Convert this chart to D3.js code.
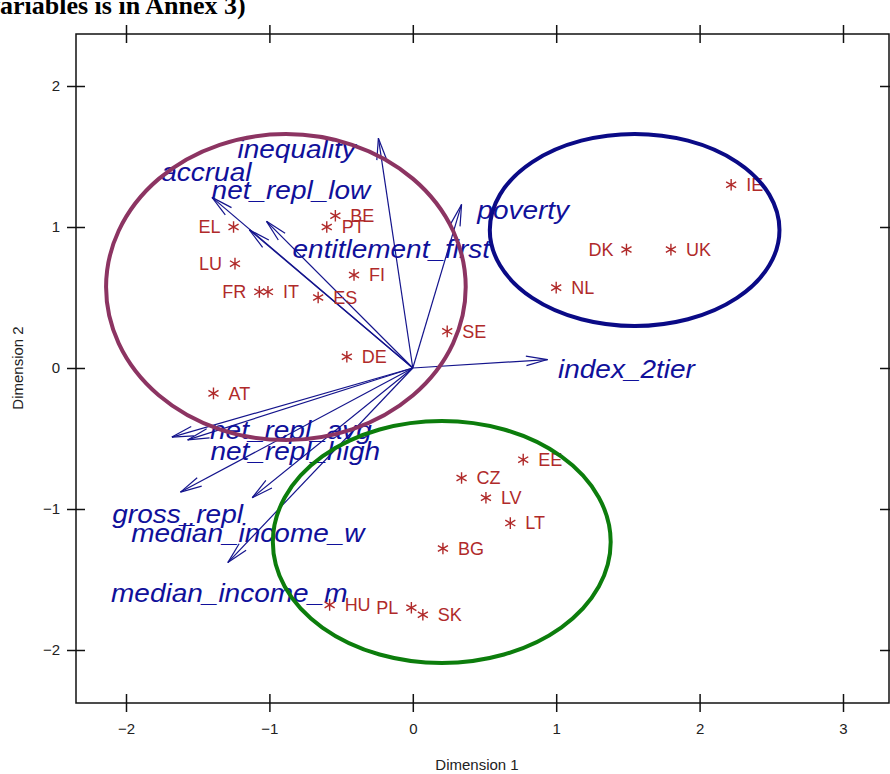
<!DOCTYPE html>
<html>
<head>
<meta charset="utf-8">
<script src="https://cdn.jsdelivr.net/npm/d3@7"></script>
<style>
body { margin: 0; background: #fff; }
svg { display: block; }
</style>
</head>
<body>
<div class="chart"></div>
<script>
var w = 890;
var h = 774;

// country scores
var countries = ["IE", "DK", "UK", "NL", "SE", "BE", "PT", "EL", "LU", "FR", "IT", "ES", "FI", "DE", "AT",
                 "CZ", "EE", "LV", "LT", "BG", "HU", "PL", "SK"];
var dim1 = [2.22, 1.49, 1.80, 1.00, 0.24, -0.54, -0.60, -1.25, -1.24, -1.07, -1.01, -0.66, -0.41, -0.46, -1.39,
            0.34, 0.77, 0.51, 0.68, 0.21, -0.58, -0.01, 0.07];
var dim2 = [1.30, 0.84, 0.84, 0.57, 0.26, 1.08, 1.00, 1.00, 0.74, 0.54, 0.54, 0.50, 0.66, 0.08, -0.18,
            -0.78, -0.65, -0.92, -1.10, -1.28, -1.68, -1.70, -1.75];
var labelLeft = ["DK", "EL", "LU", "FR", "PL"];

// variable loadings (arrow tips) and where their names sit
var variables = ["inequality", "accrual", "net_repl_low", "entitlement_first", "poverty", "index_2tier",
                 "net_repl_avg", "net_repl_high", "gross_repl", "median_income_w", "median_income_m"];
var load1 = [-0.24, -1.40, -1.02, -1.14, 0.34, 0.94, -1.68, -1.57, -1.62, -1.12, -1.29];
var load2 = [1.63, 1.21, 1.04, 0.98, 1.16, 0.06, -0.49, -0.51, -0.88, -0.92, -1.38];
var labelDim1 = [-0.81, -1.44, -0.85, -0.15, 0.77, 1.49, -0.85, -0.82, -1.64, -1.15, -1.28];
var labelDim2 = [1.55, 1.39, 1.26, 0.84, 1.12, -0.01, -0.44, -0.59, -1.04, -1.17, -1.60];

// cluster ellipses
var clusters = ["continental", "liberal", "eastern"];
var clusterX = [-0.885, 1.547, 0.202];
var clusterY = [0.574, 0.979, -1.234];
var clusterRx = [1.254, 1.010, 1.178];
var clusterRy = [1.085, 0.681, 0.858];

var ticks = [-2, -1, 0, 1, 2, 3];
var yTicks = [-2, -1, 0, 1, 2];

var x = d3.scaleLinear().domain([-2, 3]).range([126, 843]);
var y = d3.scaleLinear().domain([-2, 2]).range([650, 86]);

var clusterColor = d3.scaleOrdinal()
    .domain(clusters)
    .range(["#8c3462", "#0a0a86", "#0c7d0c"]);

var svg = d3.select(".chart")
    .append("svg")
    .attr("width", w)
    .attr("height", h);

var fLeft = 76, fRight = 889, fTop = 34, fBottom = 703;

// header text cut off from the page above
svg.append("text")
    .attr("x", -13)
    .attr("y", 14)
    .style("font-family", "Liberation Serif")
    .style("font-weight", "bold")
    .style("font-size", "26px")
    .text("variables is in Annex 3)");

// frame
svg.append("rect")
    .attr("x", fLeft).attr("y", fTop)
    .attr("width", fRight - fLeft).attr("height", fBottom - fTop)
    .attr("fill", "none").attr("stroke", "#111").attr("stroke-width", 1.5);

var tickFont = function(sel) {
    sel.selectAll("text")
        .style("font-family", "Liberation Sans")
        .style("font-size", "15px")
        .attr("fill", "#222");
    sel.select(".domain").remove();
    sel.selectAll("line").attr("stroke", "#111").attr("stroke-width", 1.5);
}

var xb = svg.append("g")
    .attr("transform", "translate(0," + fBottom + ")")
    .call(d3.axisBottom(x).tickValues(ticks).tickSize(9).tickPadding(11).tickFormat(d3.format("d")))
    .call(tickFont);
xb.selectAll("line").attr("y1", -9);

var xt = svg.append("g")
    .attr("transform", "translate(0," + fTop + ")")
    .call(d3.axisTop(x).tickValues(ticks).tickSize(9).tickFormat(""))
    .call(tickFont);
xt.selectAll("line").attr("y1", 9);

var yl = svg.append("g")
    .attr("transform", "translate(" + fLeft + ",0)")
    .call(d3.axisLeft(y).tickValues(yTicks).tickSize(9).tickPadding(7).tickFormat(d3.format("d")))
    .call(tickFont);
yl.selectAll("line").attr("x1", 9);

var yr = svg.append("g")
    .attr("transform", "translate(" + fRight + ",0)")
    .call(d3.axisRight(y).tickValues(yTicks).tickSize(9).tickFormat(""))
    .call(tickFont);
yr.selectAll("line").attr("x1", -9);

svg.append("text")
    .attr("x", 477).attr("y", 770)
    .attr("text-anchor", "middle")
    .style("font-family", "Liberation Sans").style("font-size", "15px")
    .attr("fill", "#222")
    .text("Dimension 1");

svg.append("text")
    .attr("transform", "translate(23,368) rotate(-90)")
    .attr("text-anchor", "middle")
    .style("font-family", "Liberation Sans").style("font-size", "15px")
    .attr("fill", "#222")
    .text("Dimension 2");

// variable arrows
var blue = "#14148c";
var arrows = svg.append("g");
variables.forEach(function(v, i) {
    var x0 = x(0), y0 = y(0);
    var x1 = x(load1[i]), y1 = y(load2[i]);
    var ang = Math.atan2(y1 - y0, x1 - x0);
    arrows.append("line")
        .attr("x1", x0).attr("y1", y0).attr("x2", x1).attr("y2", y1)
        .attr("stroke", blue).attr("stroke-width", 1.2);
    [-0.22, 0.22].forEach(function(da) {
        arrows.append("line")
            .attr("x1", x1).attr("y1", y1)
            .attr("x2", x1 - 22 * Math.cos(ang + da))
            .attr("y2", y1 - 22 * Math.sin(ang + da))
            .attr("stroke", blue).attr("stroke-width", 1.2);
    });
});

// names are drawn a bit wide, like the original device font
svg.append("g").selectAll("text")
    .data(variables)
    .enter()
    .append("text")
    .attr("transform", function(d, i) {
        return "translate(" + x(labelDim1[i]) + "," + y(labelDim2[i]) + ") scale(1.12,1)";
    })
    .attr("dy", "0.35em")
    .attr("text-anchor", "middle")
    .style("font-family", "Liberation Sans")
    .style("font-style", "italic")
    .style("font-size", "25px")
    .attr("fill", "#10109a")
    .text(function(d) { return d; });

// countries
var red = "#b02a2a";
svg.append("g").selectAll("path")
    .data(countries)
    .enter()
    .append("path")
    .attr("transform", function(d, i) { return "translate(" + x(dim1[i]) + "," + y(dim2[i]) + ")"; })
    .attr("d", d3.symbol().type(d3.symbolAsterisk).size(95))
    .attr("stroke", red).attr("stroke-width", 1.4).attr("fill", "none");

svg.append("g").selectAll("text")
    .data(countries)
    .enter()
    .append("text")
    .attr("x", function(d, i) {
        return labelLeft.indexOf(d) >= 0 ? x(dim1[i]) - 13 : x(dim1[i]) + 15;
    })
    .attr("y", function(d, i) { return y(dim2[i]); })
    .attr("dy", "0.35em")
    .attr("text-anchor", function(d) { return labelLeft.indexOf(d) >= 0 ? "end" : "start"; })
    .style("font-family", "Liberation Sans")
    .style("font-size", "18px")
    .attr("fill", red)
    .text(function(d) { return d; });

// cluster ellipses on top
svg.append("g").selectAll("ellipse")
    .data(clusters)
    .enter()
    .append("ellipse")
    .attr("cx", function(d, i) { return x(clusterX[i]); })
    .attr("cy", function(d, i) { return y(clusterY[i]); })
    .attr("rx", function(d, i) { return x(clusterRx[i]) - x(0); })
    .attr("ry", function(d, i) { return y(0) - y(clusterRy[i]); })
    .attr("fill", "none")
    .attr("stroke", function(d) { return clusterColor(d); })
    .attr("stroke-width", 4);
</script>
</body>
</html>
